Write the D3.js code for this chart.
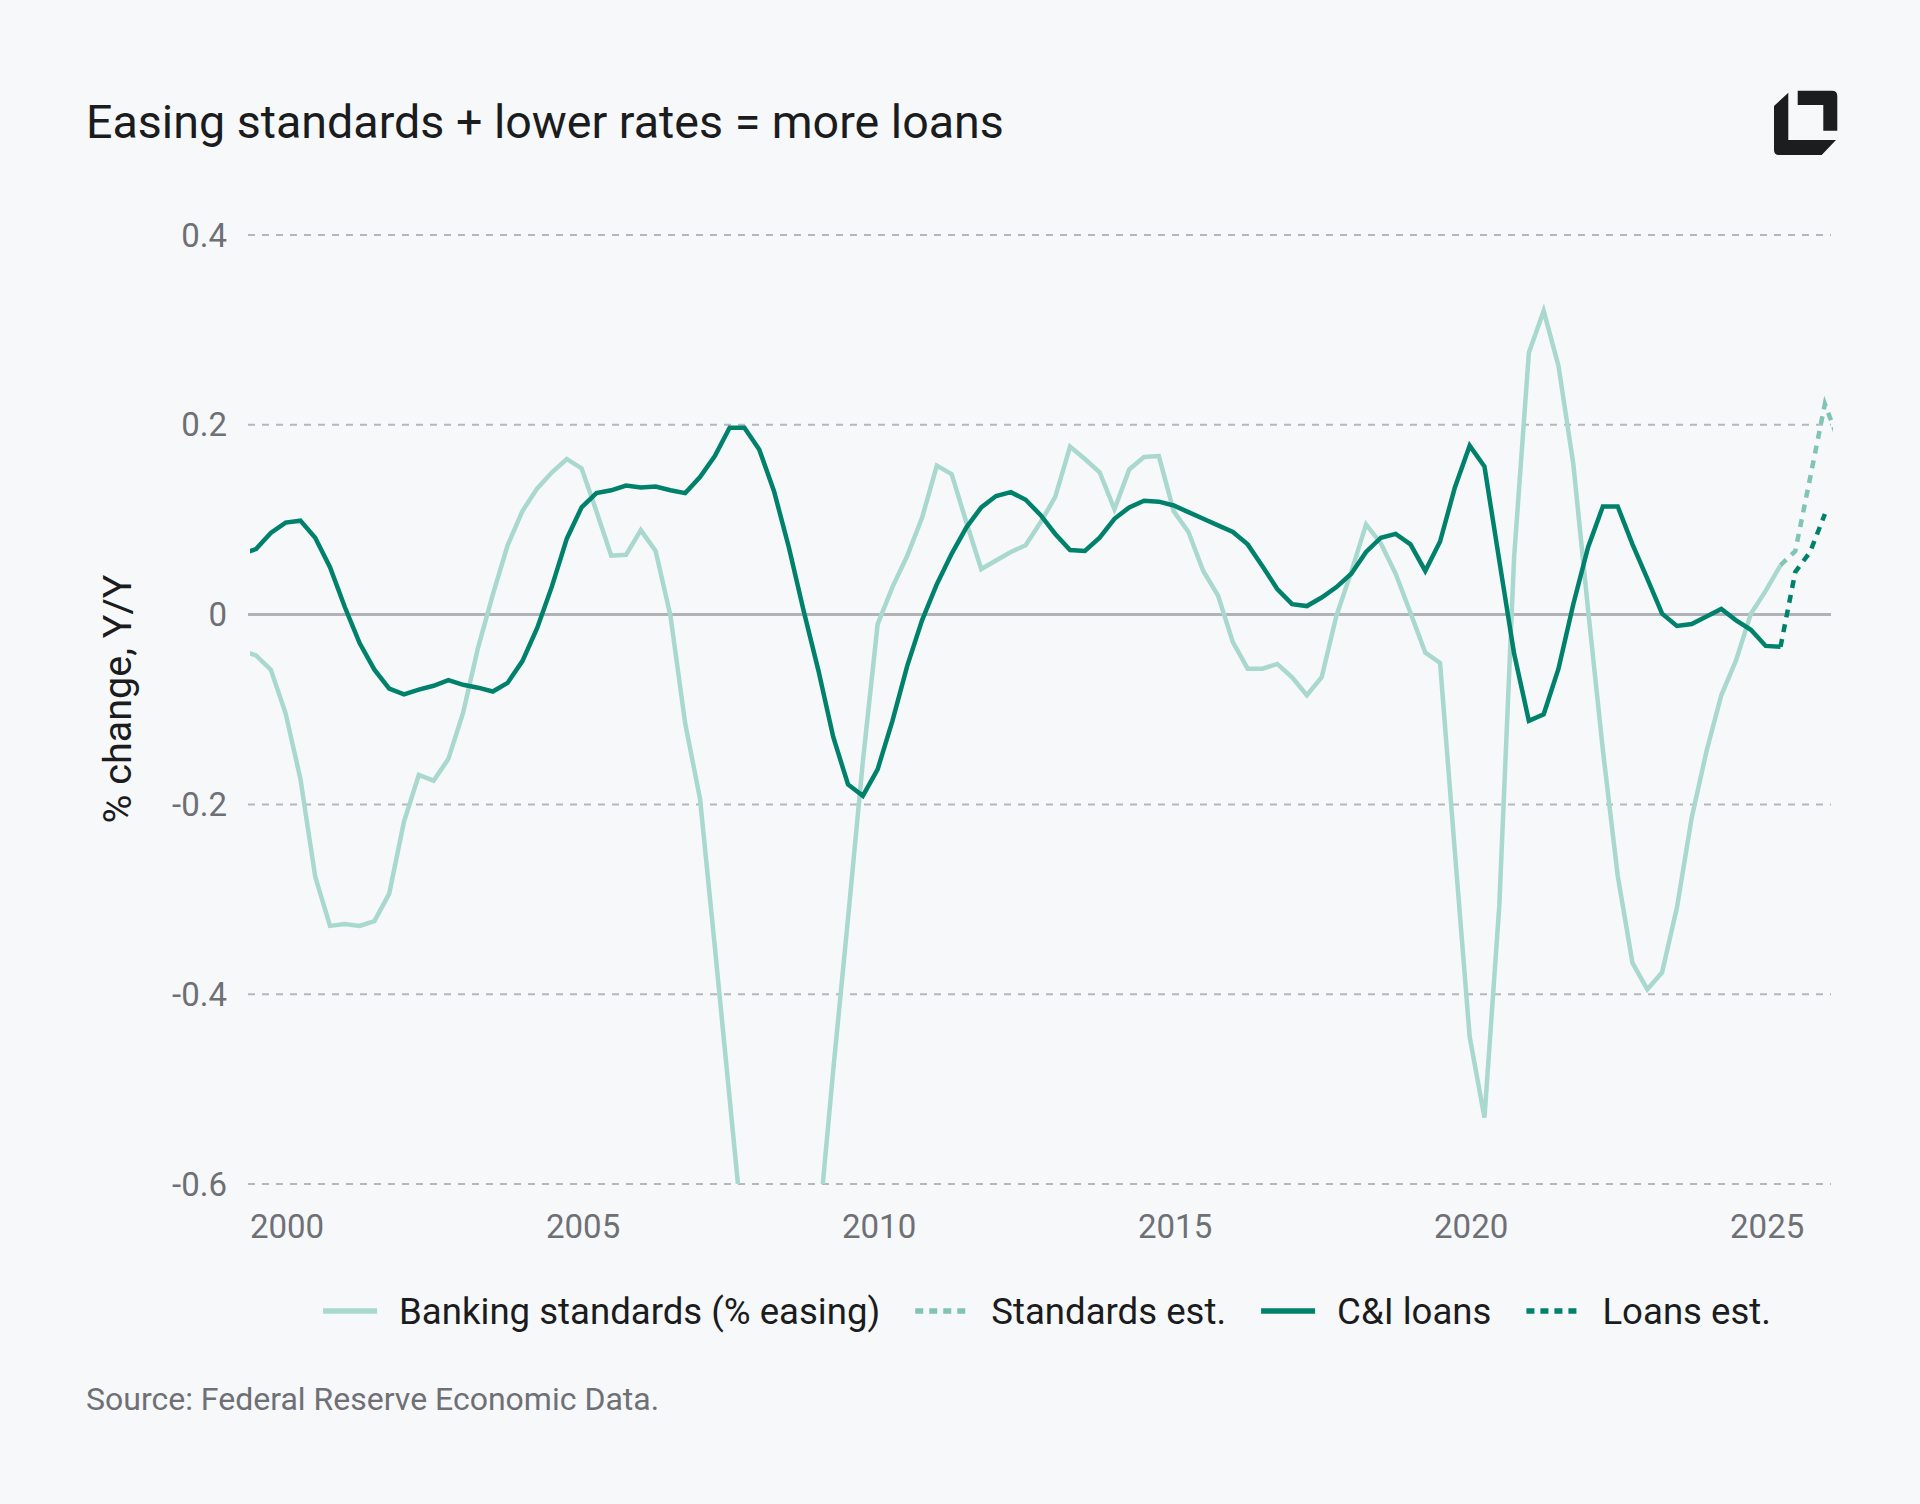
<!DOCTYPE html>
<html>
<head>
	<meta charset="UTF-8">
	<title>Easing standards + lower rates = more loans</title>
	<script src="https://cdn.jsdelivr.net/npm/d3@7"></script>
	<style>
		html, body { margin: 0; padding: 0; background: #f7f8fa; }
		svg { display: block; }
		text { font-family: Roboto, "Liberation Sans", sans-serif; }
	</style>
</head>
<body>
	<div id="chart"></div>

	<script type="text/javascript">
	// quarterly observations, first one (1999 Q1) sits just left of the plot and gets clipped
	var firstObs = 1999.225;   // decimal year of the first observation
	var quarterStep = 0.25;

	// banking standards, net % easing (negative = tightening)
	var standards = [
		-0.038, -0.043, -0.058, -0.104, -0.173, -0.276, -0.328, -0.326, -0.328, -0.323,
		-0.294, -0.218, -0.169, -0.175, -0.152, -0.103, -0.035, 0.021, 0.073, 0.109,
		0.133, 0.150, 0.164, 0.154, 0.109, 0.062, 0.063, 0.089, 0.067, -0.001,
		-0.115, -0.194, -0.350, -0.510, -0.670, -0.800, -0.840, -0.840, -0.760, -0.650,
		-0.480, -0.320, -0.155, -0.010, 0.029, 0.062, 0.102, 0.157, 0.148, 0.097,
		0.048, 0.057, 0.066, 0.073, 0.097, 0.124, 0.177, 0.164, 0.150, 0.111,
		0.153, 0.166, 0.167, 0.109, 0.087, 0.046, 0.020, -0.029, -0.057, -0.057,
		-0.052, -0.066, -0.085, -0.066, -0.001, 0.045, 0.095, 0.075, 0.043, 0.002,
		-0.040, -0.051, -0.250, -0.445, -0.530, -0.307, 0.060, 0.276, 0.320, 0.262,
		0.159, 0.005, -0.143, -0.275, -0.367, -0.395, -0.377, -0.309, -0.214, -0.144,
		-0.085, -0.048, 0.001, 0.025, 0.052
	];

	// C&I loans, % change Y/Y
	var loans = [
		0.064, 0.069, 0.086, 0.097, 0.099, 0.081, 0.050, 0.008, -0.030, -0.058,
		-0.078, -0.084, -0.079, -0.075, -0.069, -0.074, -0.077, -0.081, -0.072, -0.049,
		-0.014, 0.030, 0.080, 0.113, 0.128, 0.131, 0.136, 0.134, 0.135, 0.131,
		0.128, 0.145, 0.167, 0.197, 0.197, 0.174, 0.130, 0.071, 0.004, -0.059,
		-0.129, -0.179, -0.191, -0.163, -0.112, -0.054, -0.006, 0.032, 0.064, 0.092,
		0.113, 0.125, 0.129, 0.121, 0.105, 0.085, 0.068, 0.067, 0.081, 0.101,
		0.113, 0.120, 0.119, 0.115, 0.108, 0.101, 0.094, 0.087, 0.074, 0.051,
		0.027, 0.011, 0.009, 0.018, 0.029, 0.043, 0.066, 0.081, 0.085, 0.074,
		0.046, 0.077, 0.134, 0.178, 0.156, 0.057, -0.041, -0.112, -0.105, -0.057,
		0.011, 0.071, 0.114, 0.114, 0.074, 0.038, 0.001, -0.012, -0.010, -0.002,
		0.006, -0.006, -0.016, -0.033, -0.034
	];

	// estimates, starting at the last observed quarter
	var standardsEst = [0.052, 0.067, 0.144, 0.222, 0.180];
	var loansEst = [-0.034, 0.045, 0.066, 0.106];

	var yTicks = [0.4, 0.2, 0, -0.2, -0.4, -0.6];
	var yTickLabels = ["0.4", "0.2", "0", "-0.2", "-0.4", "-0.6"];
	var xTicks = [2000, 2005, 2010, 2015, 2020, 2025];

	var legendNames = ["Banking standards (% easing)", "Standards est.", "C&I loans", "Loans est."];

	var width = 1920;
	var height = 1504;
	var lightColor = "#a9d8cf";
	var lightEstColor = "#80c4b6";
	var darkColor = "#00816c";
	var gridColor = "#b5b7be";

	var svg = d3.select("#chart").append("svg")
		.attr("width", width)
		.attr("height", height);

	svg.append("rect")
		.attr("width", width)
		.attr("height", height)
		.attr("fill", "#f7f8fa");

	var plot = { left: 248, right: 1831, top: 235, bottom: 1184 };

	var x = d3.scaleLinear()
		.domain([1999.340, 2026.078])
		.range([plot.left, plot.right]);

	var y = d3.scaleLinear()
		.domain([-0.6, 0.4])
		.range([plot.bottom, plot.top]);

	function toPoints(values, startIndex)
	{
		return values.map(function(v, i) {
			return { t: firstObs + (startIndex + i) * quarterStep, v: v };
		});
	}

	var standardsPts = toPoints(standards, 0);
	var loansPts = toPoints(loans, 0);
	var standardsEstPts = toPoints(standardsEst, standards.length - 1);
	var loansEstPts = toPoints(loansEst, loans.length - 1);

	// title
	svg.append("text")
		.attr("x", 86)
		.attr("y", 138)
		.attr("font-size", 46.6)
		.attr("fill", "#1b1c1e")
		.text("Easing standards + lower rates = more loans");

	// logo mark
	var logo = svg.append("g").attr("fill", "#1c1d1f");
	logo.append("path")
		.attr("d", "M1788.3,92.7 L1774,106 L1774,150 Q1774,155 1779,155 L1821.7,155 L1836,140 L1788.3,140 Z");
	logo.append("path")
		.attr("d", "M1797.7,90.7 L1832,90.7 Q1837.3,90.7 1837.3,96 L1837.3,130.7 L1823.3,130.7 L1823.3,105 L1797.7,105 Z");

	// grid
	var grid = svg.append("g");
	yTicks.forEach(function(t, i) {
		grid.append("line")
			.attr("x1", plot.left)
			.attr("x2", plot.right)
			.attr("y1", y(t))
			.attr("y2", y(t))
			.attr("stroke", t === 0 ? "#b1b3b9" : gridColor)
			.attr("stroke-width", t === 0 ? 3 : 2)
			.attr("stroke-dasharray", t === 0 ? null : "7,7");

		grid.append("text")
			.attr("x", 227)
			.attr("y", y(t) + 11.5)
			.attr("text-anchor", "end")
			.attr("font-size", 33)
			.attr("fill", "#6e7076")
			.text(yTickLabels[i]);
	});

	xTicks.forEach(function(t) {
		svg.append("text")
			.attr("x", x(t))
			.attr("y", 1238)
			.attr("text-anchor", "middle")
			.attr("font-size", 33)
			.attr("fill", "#6e7076")
			.text(t);
	});

	// y axis title
	svg.append("text")
		.attr("transform", "translate(131,699) rotate(-90)")
		.attr("text-anchor", "middle")
		.attr("font-size", 39.5)
		.attr("fill", "#1b1c1e")
		.text("% change, Y/Y");

	// lines, clipped to the plot area
	svg.append("clipPath")
		.attr("id", "plot-clip")
		.append("rect")
		.attr("x", 250)
		.attr("y", 150)
		.attr("width", 1583)
		.attr("height", plot.bottom - 150);

	var line = d3.line()
		.x(function(d) { return x(d.t); })
		.y(function(d) { return y(d.v); });

	var lines = svg.append("g").attr("clip-path", "url(#plot-clip)");

	lines.append("path")
		.datum(standardsPts)
		.attr("d", line)
		.attr("fill", "none")
		.attr("stroke", lightColor)
		.attr("stroke-width", 4.5);

	lines.append("path")
		.datum(standardsEstPts)
		.attr("d", line)
		.attr("fill", "none")
		.attr("stroke", lightEstColor)
		.attr("stroke-width", 4.5)
		.attr("stroke-dasharray", "8,7");

	lines.append("path")
		.datum(loansPts)
		.attr("d", line)
		.attr("fill", "none")
		.attr("stroke", darkColor)
		.attr("stroke-width", 4.5);

	lines.append("path")
		.datum(loansEstPts)
		.attr("d", line)
		.attr("fill", "none")
		.attr("stroke", darkColor)
		.attr("stroke-width", 4.5)
		.attr("stroke-dasharray", "8,7");

	// legend
	var legendStyles = [
		{ color: lightColor, dash: null },
		{ color: lightEstColor, dash: "8,6" },
		{ color: darkColor, dash: null },
		{ color: darkColor, dash: "8,6" }
	];
	var sampleWidth = 54;
	var sampleGap = 22;
	var itemGap = 35;
	var legendY = 1311;

	var legend = svg.append("g");
	var items = legend.selectAll("g.item")
		.data(legendNames)
		.enter().append("g")
		.attr("class", "item");

	items.append("line")
		.attr("x1", 0)
		.attr("x2", sampleWidth)
		.attr("y1", legendY)
		.attr("y2", legendY)
		.attr("stroke", function(d, i) { return legendStyles[i].color; })
		.attr("stroke-width", 5.5)
		.attr("stroke-dasharray", function(d, i) { return legendStyles[i].dash; });

	items.append("text")
		.attr("x", sampleWidth + sampleGap)
		.attr("y", legendY + 13)
		.attr("font-size", 36.6)
		.attr("fill", "#1b1c1e")
		.text(function(d) { return d; });

	var widths = [];
	items.each(function() {
		widths.push(sampleWidth + sampleGap + d3.select(this).select("text").node().getComputedTextLength());
	});
	var total = d3.sum(widths) + itemGap * (widths.length - 1);
	var cursor = 1047 - total / 2;
	items.attr("transform", function(d, i) {
		var pos = cursor;
		cursor += widths[i] + itemGap;
		return "translate(" + pos + ",0)";
	});

	// source
	svg.append("text")
		.attr("x", 86)
		.attr("y", 1410)
		.attr("font-size", 32)
		.attr("fill", "#6e7076")
		.text("Source: Federal Reserve Economic Data.");
	</script>
</body>
</html>
